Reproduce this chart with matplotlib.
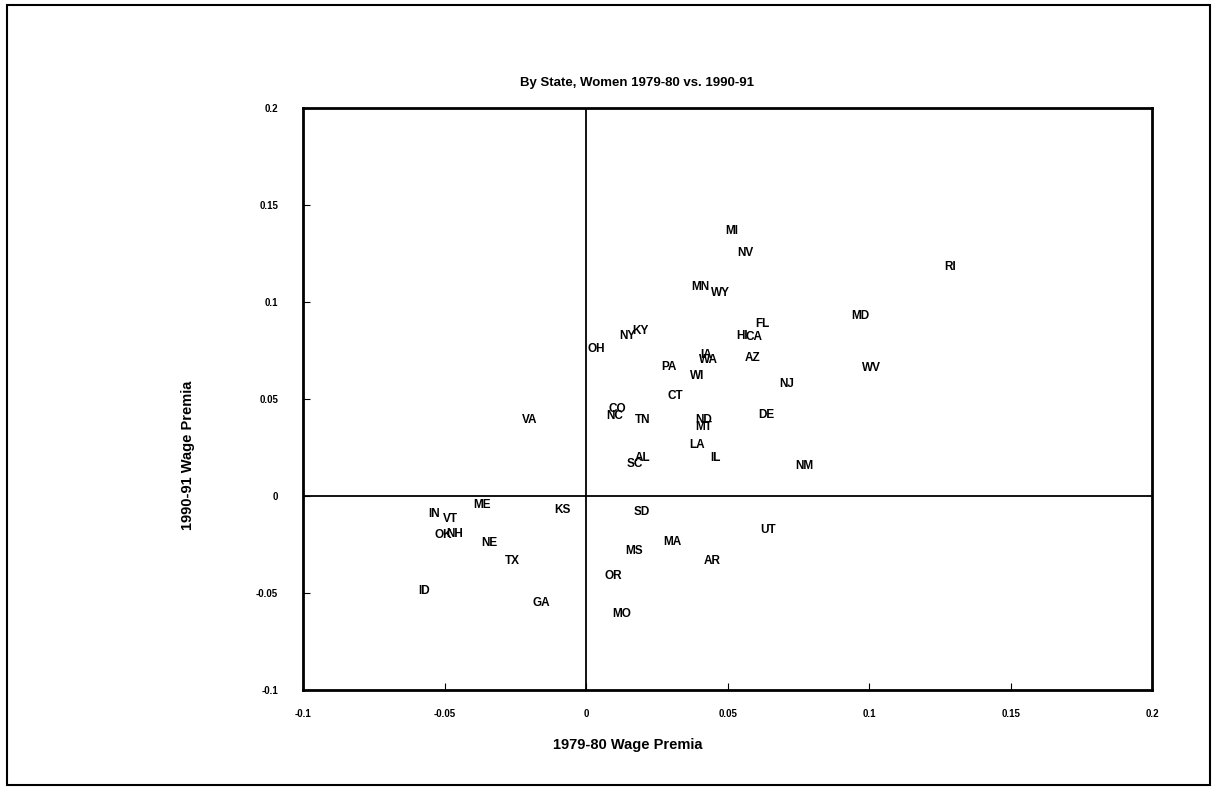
import numpy as np
from matplotlib import pyplot as plt
from matplotlib.patches import Rectangle

# state wage premia, women: 1979-80 (x) vs 1990-91 (y)
states = ['MI', 'NV', 'RI', 'MN', 'WY', 'FL', 'MD', 'HI', 'CA', 'NY', 'KY', 'OH',
          'AZ', 'IA', 'WA', 'WI', 'PA', 'NJ', 'WV', 'CT', 'CO', 'NC', 'TN', 'ND',
          'MT', 'DE', 'VA', 'LA', 'AL', 'SC', 'IL', 'NM', 'ME', 'KS', 'IN', 'VT',
          'SD', 'UT', 'OK', 'NH', 'NE', 'MA', 'MS', 'TX', 'AR', 'OR', 'ID', 'GA', 'MO']
prem_7980 = [0.0516, 0.0562, 0.1286, 0.0403, 0.0474, 0.0622, 0.0968, 0.0552, 0.0594,
             0.0145, 0.0191, 0.0036, 0.0587, 0.0424, 0.0434, 0.0392, 0.0294, 0.0710,
             0.1010, 0.0314, 0.0110, 0.0102, 0.0201, 0.0414, 0.0417, 0.0636, -0.0198,
             0.0392, 0.0198, 0.0173, 0.0456, 0.0771, -0.0368, -0.0085, -0.0537, -0.0481,
             0.0198, 0.0643, -0.0505, -0.0463, -0.0343, 0.0304, 0.0169, -0.0262, 0.0445,
             0.0095, -0.0572, -0.0159, 0.0127]
prem_9091 = [0.1364, 0.1251, 0.1179, 0.1077, 0.1046, 0.0887, 0.0928, 0.0826, 0.0821,
             0.0826, 0.0851, 0.0759, 0.0713, 0.0728, 0.0703, 0.0621, 0.0667, 0.0579,
             0.0662, 0.0518, 0.0446, 0.0410, 0.0390, 0.0390, 0.0354, 0.0415, 0.0390,
             0.0262, 0.0195, 0.0164, 0.0195, 0.0154, -0.0046, -0.0072, -0.0092, -0.0118,
             -0.0082, -0.0174, -0.0200, -0.0195, -0.0241, -0.0236, -0.0282, -0.0333, -0.0333,
             -0.0410, -0.0492, -0.0549, -0.0610]

x_ticks = [-0.1, -0.05, 0, 0.05, 0.1, 0.15, 0.2]
x_ticklabels = ['-0.1', '-0.05', '0', '0.05', '0.1', '0.15', '0.2']
y_ticks = [-0.1, -0.05, 0, 0.05, 0.1, 0.15, 0.2]
y_ticklabels = ['-0.1', '-0.05', '0', '0.05', '0.1', '0.15', '0.2']

plt.rcParams['font.family'] = ['Liberation Sans', 'DejaVu Sans']

fig = plt.figure(figsize=(12.17, 7.92), dpi=100)
ax = fig.add_axes([0.249, 0.1288, 0.6977, 0.7348])

for name, x, y in zip(states, prem_7980, prem_9091):
    ax.text(x, y, name, ha='center', va='center', fontsize=8.5, fontweight='bold')

ax.axhline(0, color='black', lw=1.3)
ax.axvline(0, color='black', lw=1.3)

ax.set_xticks(x_ticks)
ax.set_xticklabels(x_ticklabels, fontsize=7, fontweight='bold')
ax.set_yticks(y_ticks)
ax.set_yticklabels(y_ticklabels, fontsize=7, fontweight='bold')
ax.set_xlim(-0.1, 0.2)
ax.set_ylim(-0.1, 0.2)
ax.tick_params(direction='in', length=5, width=0.8, pad=14)
ax.tick_params(axis='y', pad=18)
for s in ax.spines.values():
    s.set_linewidth(2)

fig.text(637 / 1217, 1 - 83 / 792, 'By State, Women 1979-80 vs. 1990-91',
         ha='center', va='center', fontsize=9.5, fontweight='bold')
fig.text(628 / 1217, 1 - 745 / 792, '1979-80 Wage Premia',
         ha='center', va='center', fontsize=10.5, fontweight='bold')
fig.text(188 / 1217, 1 - 455 / 792, '1990-91 Wage Premia', rotation=90,
         ha='center', va='center', fontsize=10.5, fontweight='bold')

# outer frame round the whole page
fig.patches.append(Rectangle((7 / 1217, 7 / 792), 1203 / 1217, 780 / 792,
                             transform=fig.transFigure, fill=False, lw=1.5, ec='black'))

plt.savefig('out.png', dpi=100)
plt.close()
